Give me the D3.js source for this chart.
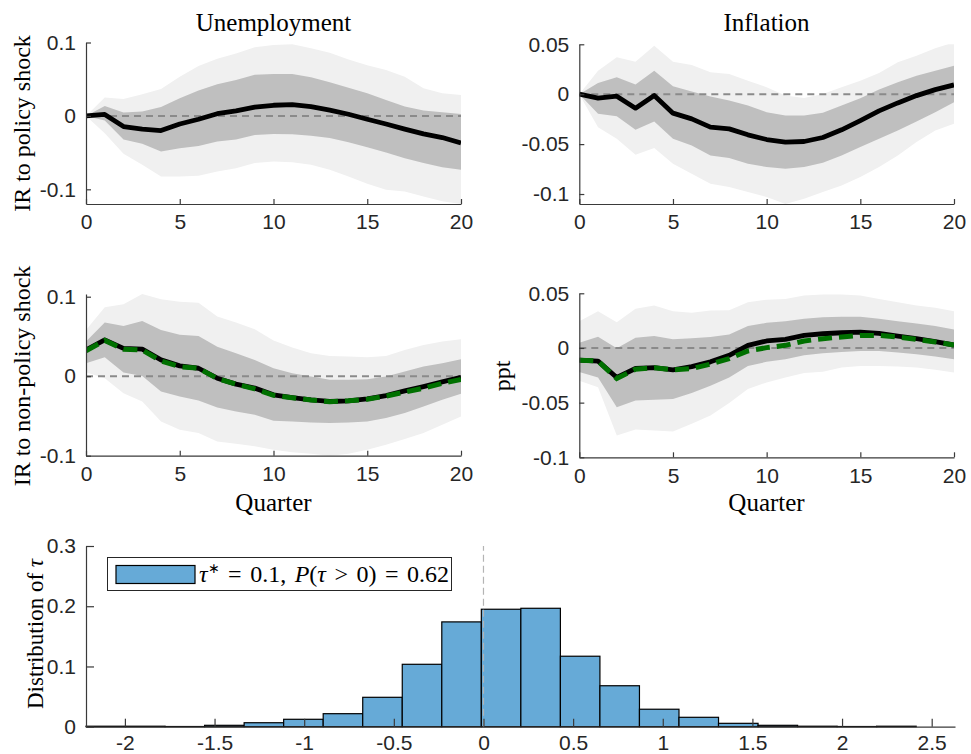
<!DOCTYPE html>
<html>
<head>
<meta charset="utf-8">
<script src="https://cdn.jsdelivr.net/npm/d3@7/dist/d3.min.js"></script>
<style>
  body { margin: 0; background: #fff; }
  .tick text { font-family: "Liberation Sans", Arial, sans-serif; font-size: 21px; fill: #262626; }
  .serif { font-family: "Liberation Serif", "Times New Roman", serif; fill: #000; }
</style>
</head>
<body>
<script>
var quarters = [0, 1, 2, 3, 4, 5, 6, 7, 8, 9, 10, 11, 12, 13, 14, 15, 16, 17, 18, 19, 20];
var quarterTicks = [0, 5, 10, 15, 20];

// unemployment, response to policy shock (median, 68% and 90% bands)
var unempPol     = [0, 0.002, -0.0145, -0.018, -0.02, -0.011, -0.0045, 0.003, 0.007, 0.012, 0.0145, 0.0155, 0.0127, 0.008, 0.0023, -0.0045, -0.011, -0.018, -0.0245, -0.0295, -0.037];
var unempPolHi68 = [0, 0.0136, 0.0045, 0.006, 0.012, 0.024, 0.0345, 0.043, 0.049, 0.056, 0.057, 0.057, 0.0526, 0.046, 0.0385, 0.031, 0.0218, 0.0127, 0.0075, 0.005, 0.0027];
var unempPolLo68 = [0, -0.0064, -0.032, -0.038, -0.0486, -0.044, -0.041, -0.035, -0.032, -0.026, -0.0245, -0.025, -0.027, -0.030, -0.036, -0.0427, -0.050, -0.0576, -0.064, -0.070, -0.0735];
var unempPolHi90 = [0, 0.025, 0.023, 0.0295, 0.0367, 0.0535, 0.068, 0.078, 0.085, 0.0935, 0.0966, 0.0975, 0.092, 0.086, 0.077, 0.069, 0.0626, 0.0535, 0.0377, 0.031, 0.0286];
var unempPolLo90 = [0, -0.0236, -0.0517, -0.0667, -0.0826, -0.0826, -0.0816, -0.0758, -0.0712, -0.064, -0.062, -0.063, -0.0667, -0.0735, -0.0826, -0.0925, -0.1007, -0.103, -0.1098, -0.1164, -0.12];

// inflation, response to policy shock
var inflPol     = [0, -0.004, -0.002, -0.014, -0.0013, -0.019, -0.0247, -0.033, -0.0347, -0.0407, -0.0454, -0.048, -0.0474, -0.0434, -0.0357, -0.0264, -0.0167, -0.0087, -0.0014, 0.0046, 0.0093];
var inflPolHi68 = [0, 0.0113, 0.017, 0.0096, 0.0236, 0.008, 0.0026, -0.0024, -0.0064, -0.0114, -0.018, -0.0214, -0.0214, -0.0187, -0.0114, -0.004, 0.0046, 0.012, 0.0186, 0.0236, 0.0286];
var inflPolLo68 = [0, -0.0197, -0.022, -0.0357, -0.0274, -0.0447, -0.0514, -0.0614, -0.064, -0.0697, -0.073, -0.0747, -0.073, -0.0687, -0.0614, -0.053, -0.0447, -0.0364, -0.0274, -0.018, -0.008];
var inflPolHi90 = [0, 0.0236, 0.037, 0.0326, 0.0486, 0.0326, 0.0293, 0.022, 0.0203, 0.0136, 0.007, -0.0014, -0.0037, 0.0003, 0.007, 0.0136, 0.0213, 0.032, 0.0386, 0.046, 0.052];
var inflPolLo90 = [0, -0.033, -0.0447, -0.0607, -0.054, -0.0697, -0.0797, -0.0897, -0.093, -0.098, -0.103, -0.11, -0.1047, -0.098, -0.0914, -0.083, -0.073, -0.0614, -0.048, -0.0364, -0.0297];

// unemployment, response to non-policy shock (two estimates)
var unempNon     = [0.033, 0.0456, 0.035, 0.034, 0.0205, 0.013, 0.010, -0.0025, -0.010, -0.015, -0.0234, -0.0268, -0.0297, -0.0318, -0.031, -0.0285, -0.0243, -0.0184, -0.013, -0.0071, -0.0013];
var unempNonAlt  = [0.032, 0.045, 0.034, 0.033, 0.019, 0.012, 0.010, -0.003, -0.010, -0.016, -0.024, -0.027, -0.030, -0.032, -0.031, -0.029, -0.025, -0.020, -0.015, -0.009, -0.004];
var unempNonHi68 = [0.0435, 0.0674, 0.063, 0.0695, 0.058, 0.052, 0.0506, 0.037, 0.029, 0.0205, 0.010, 0.0038, -0.0004, -0.0046, -0.0046, -0.0038, -0.0004, 0.0059, 0.0121, 0.0163, 0.0213];
var unempNonLo68 = [0.0163, 0.0238, 0.0046, 0.0004, -0.0192, -0.0255, -0.0305, -0.0393, -0.0444, -0.0485, -0.056, -0.0569, -0.0582, -0.059, -0.0582, -0.0569, -0.0527, -0.0464, -0.038, -0.0297, -0.0222];
var unempNonHi90 = [0.058, 0.0866, 0.0904, 0.1034, 0.0967, 0.0937, 0.0925, 0.075, 0.0674, 0.059, 0.0448, 0.036, 0.029, 0.0255, 0.0247, 0.0238, 0.0255, 0.033, 0.0393, 0.0435, 0.0464];
var unempNonLo90 = [0.005, -0.0025, -0.0213, -0.0318, -0.0569, -0.0674, -0.0715, -0.082, -0.085, -0.088, -0.0925, -0.0958, -0.0975, -0.1, -0.0975, -0.0925, -0.0862, -0.079, -0.0715, -0.061, -0.0506];

// inflation, response to non-policy shock
var inflNon     = [-0.0112, -0.012, -0.027, -0.0188, -0.0179, -0.020, -0.017, -0.0127, -0.0067, 0.0024, 0.0064, 0.0079, 0.0115, 0.013, 0.0139, 0.0145, 0.0133, 0.0109, 0.0085, 0.0058, 0.0027];
var inflNonAlt  = [-0.0112, -0.012, -0.028, -0.0194, -0.018, -0.020, -0.0188, -0.0148, -0.0097, -0.0027, 0.0003, 0.0024, 0.0064, 0.0085, 0.010, 0.0115, 0.0115, 0.010, 0.0079, 0.0055, 0.0027];
var inflNonHi68 = [0.0048, 0.0103, -0.0003, 0.0094, 0.0109, 0.0079, 0.0088, 0.010, 0.0124, 0.020, 0.023, 0.0245, 0.0267, 0.0282, 0.0285, 0.0285, 0.0267, 0.0245, 0.0224, 0.020, 0.017];
var inflNonLo68 = [-0.022, -0.027, -0.0542, -0.048, -0.0473, -0.0467, -0.0412, -0.0345, -0.027, -0.0164, -0.0127, -0.0103, -0.0067, -0.0048, -0.0036, -0.0027, -0.0027, -0.0042, -0.0058, -0.0079, -0.0103];
var inflNonHi90 = [0.0245, 0.0336, 0.0236, 0.0358, 0.0388, 0.0336, 0.0321, 0.0342, 0.0345, 0.0418, 0.0442, 0.0448, 0.0479, 0.0488, 0.0488, 0.0479, 0.0448, 0.0418, 0.0388, 0.0367, 0.0336];
var inflNonLo90 = [-0.030, -0.036, -0.08, -0.0745, -0.0755, -0.0764, -0.0694, -0.0618, -0.0503, -0.0376, -0.0315, -0.027, -0.023, -0.0218, -0.0179, -0.0164, -0.0164, -0.017, -0.0179, -0.020, -0.0224];

var unempTicks = [-0.1, 0, 0.1];
var inflTicks = [-0.1, -0.05, 0, 0.05];

// distribution of tau
var tauEdges = [-2.217, -1.9965, -1.776, -1.5555, -1.335, -1.1145, -0.894, -0.6735, -0.453, -0.2325, -0.012,
                0.2085, 0.429, 0.6495, 0.87, 1.0905, 1.311, 1.5315, 1.752, 1.9725, 2.193, 2.4135];
var tauProb = [0.0008, 0.0008, 0.0003, 0.0023, 0.0066, 0.0123, 0.0216, 0.0488, 0.1036, 0.174, 0.195,
               0.1966, 0.117, 0.068, 0.029, 0.0156, 0.0056, 0.0023, 0.0008, 0.0003, 0.0008];
var tauXTicks = [-2, -1.5, -1, -0.5, 0, 0.5, 1, 1.5, 2, 2.5];
var tauYTicks = [0, 0.1, 0.2, 0.3];

var width = 971, height = 754;
var axisColor = '#3a3a3a';
var lightGray = '#f0f0f0';
var darkGray = '#bfbfbf';
var altGreen = '#007000';

var svg = d3.select('body')
  .append('svg')
  .attr('width', width)
  .attr('height', height);

svg.append('rect')
  .attr('width', width)
  .attr('height', height)
  .attr('fill', 'white');

function styleAxis(g) {
  g.select('.domain').attr('stroke', axisColor).attr('stroke-width', 1.2);
  g.selectAll('.tick line').attr('stroke', axisColor).attr('stroke-width', 1.2);
}

var panels = [
  { left: 86, right: 461, top: 42.5, bottom: 204, yDomain: [-0.12, 0.1], yTicks: unempTicks,
    mid: unempPol, hi68: unempPolHi68, lo68: unempPolLo68, hi90: unempPolHi90, lo90: unempPolLo90 },
  { left: 579.3, right: 954, top: 44.3, bottom: 204, yDomain: [-0.11, 0.05], yTicks: inflTicks,
    mid: inflPol, hi68: inflPolHi68, lo68: inflPolLo68, hi90: inflPolHi90, lo90: inflPolLo90 },
  { left: 86, right: 461, top: 294, bottom: 455.7, yDomain: [-0.1, 0.1034], yTicks: unempTicks,
    mid: unempNon, alt: unempNonAlt, hi68: unempNonHi68, lo68: unempNonLo68, hi90: unempNonHi90, lo90: unempNonLo90 },
  { left: 579.3, right: 954, top: 293.3, bottom: 457.3, yDomain: [-0.1, 0.05], yTicks: inflTicks,
    mid: inflNon, alt: inflNonAlt, hi68: inflNonHi68, lo68: inflNonLo68, hi90: inflNonHi90, lo90: inflNonLo90 }
];

panels.forEach(function(p, k) {
  var x = d3.scaleLinear().domain([0, 20]).range([p.left, p.right]);
  var y = d3.scaleLinear().domain(p.yDomain).range([p.bottom, p.top]);
  var g = svg.append('g');

  g.append('clipPath').attr('id', 'clip' + k)
    .append('rect')
    .attr('x', p.left).attr('y', p.top)
    .attr('width', p.right - p.left).attr('height', p.bottom - p.top);
  var plot = g.append('g').attr('clip-path', 'url(#clip' + k + ')');

  function band(lo, hi) {
    return d3.area()
      .x(function(d, i) { return x(quarters[i]); })
      .y0(function(d, i) { return y(lo[i]); })
      .y1(function(d, i) { return y(hi[i]); });
  }
  var line = d3.line()
    .x(function(d, i) { return x(quarters[i]); })
    .y(function(d) { return y(d); });

  plot.append('path').datum(quarters).attr('d', band(p.lo90, p.hi90)).attr('fill', lightGray);
  plot.append('path').datum(quarters).attr('d', band(p.lo68, p.hi68)).attr('fill', darkGray);

  plot.append('line')
    .attr('x1', x(0)).attr('x2', x(20))
    .attr('y1', y(0)).attr('y2', y(0))
    .attr('stroke', '#8a8a8a')
    .attr('stroke-width', 2)
    .attr('stroke-dasharray', '7,5');

  plot.append('path').datum(p.mid)
    .attr('d', line)
    .attr('fill', 'none')
    .attr('stroke', '#000')
    .attr('stroke-width', 4.8)
    .attr('stroke-linejoin', 'round');

  if (p.alt) {
    plot.append('path').datum(p.alt)
      .attr('d', line)
      .attr('fill', 'none')
      .attr('stroke', altGreen)
      .attr('stroke-width', 5)
      .attr('stroke-dasharray', '14,7');
  }

  var xAxis = d3.axisBottom(x).tickValues(quarterTicks).tickSize(-5).tickSizeOuter(0).tickPadding(10.5)
    .tickFormat(function(d) { return String(d); });
  var yAxis = d3.axisLeft(y).tickValues(p.yTicks).tickSize(-5).tickSizeOuter(0).tickPadding(10)
    .tickFormat(function(d) { return String(d); });

  g.append('g').attr('transform', 'translate(0,' + p.bottom + ')').call(xAxis).call(styleAxis);
  g.append('g').attr('transform', 'translate(' + p.left + ',0)').call(yAxis).call(styleAxis);
});

// titles and axis labels
function serifText(txt, x, y, rotate, size) {
  var t = svg.append('text')
    .attr('class', 'serif')
    .attr('text-anchor', 'middle')
    .style('font-size', size + 'px')
    .text(txt);
  if (rotate) {
    t.attr('transform', 'translate(' + x + ',' + y + ') rotate(-90)');
  } else {
    t.attr('x', x).attr('y', y);
  }
  return t;
}

serifText('Unemployment', 273.5, 31, false, 25);
serifText('Inflation', 766.5, 31, false, 25);
serifText('Quarter', 273.5, 511, false, 25);
serifText('Quarter', 766.5, 511, false, 25);
serifText('IR to policy shock', 29.5, 123.5, true, 24);
serifText('IR to non-policy shock', 29.5, 376, true, 24);
serifText('ppt', 510, 376, true, 24);
serifText('Distribution of \u03c4', 42.5, 634, true, 23)
  .text('Distribution of ')
  .append('tspan').style('font-style', 'italic').text('\u03c4');

// histogram of tau
var hx = d3.scaleLinear().domain([-2.217, 2.63]).range([86, 955]);
var hy = d3.scaleLinear().domain([0, 0.3]).range([726.7, 546]);

svg.append('g')
  .selectAll('rect')
  .data(tauProb)
  .enter()
  .append('rect')
  .attr('x', function(d, i) { return hx(tauEdges[i]); })
  .attr('width', function(d, i) { return hx(tauEdges[i + 1]) - hx(tauEdges[i]); })
  .attr('y', function(d) { return hy(d); })
  .attr('height', function(d) { return hy(0) - hy(d); })
  .attr('fill', '#66aad7')
  .attr('stroke', '#000')
  .attr('stroke-width', 1.2);

svg.append('line')
  .attr('x1', hx(0)).attr('x2', hx(0))
  .attr('y1', hy(0)).attr('y2', hy(0.3))
  .attr('stroke', '#b4b4b4')
  .attr('stroke-width', 1.2)
  .attr('stroke-dasharray', '7,4');

var hxAxis = d3.axisBottom(hx).tickValues(tauXTicks).tickSize(-8).tickSizeOuter(0).tickPadding(8.5)
  .tickFormat(function(d) { return String(d); });
var hyAxis = d3.axisLeft(hy).tickValues(tauYTicks).tickSize(-8).tickSizeOuter(0).tickPadding(10)
  .tickFormat(function(d) { return String(d); });
svg.append('g').attr('transform', 'translate(0,' + hy(0) + ')').call(hxAxis).call(styleAxis);
svg.append('g').attr('transform', 'translate(' + hx.range()[0] + ',0)').call(hyAxis).call(styleAxis);

// legend
var legend = svg.append('g');
legend.append('rect')
  .attr('x', 107.5).attr('y', 557.5)
  .attr('width', 344).attr('height', 33)
  .attr('fill', 'white')
  .attr('stroke', '#262626')
  .attr('stroke-width', 1);
legend.append('rect')
  .attr('x', 116).attr('y', 565.5)
  .attr('width', 79).attr('height', 18)
  .attr('fill', '#66aad7')
  .attr('stroke', '#000')
  .attr('stroke-width', 1.2);

var lt = legend.append('text')
  .attr('class', 'serif')
  .attr('x', 199)
  .attr('y', 582)
  .attr('xml:space', 'preserve')
  .style('font-size', '24px')
  .style('word-spacing', '2.5px');
lt.append('tspan').style('font-style', 'italic').text('\u03c4');
lt.append('tspan').attr('dy', -9).style('font-size', '14px').text('\u2217');
lt.append('tspan').attr('dy', 9).text(' = 0.1, ');
lt.append('tspan').style('font-style', 'italic').text('P');
lt.append('tspan').text('(');
lt.append('tspan').style('font-style', 'italic').text('\u03c4');
lt.append('tspan').text(' > 0) = 0.62');
</script>
</body>
</html>
